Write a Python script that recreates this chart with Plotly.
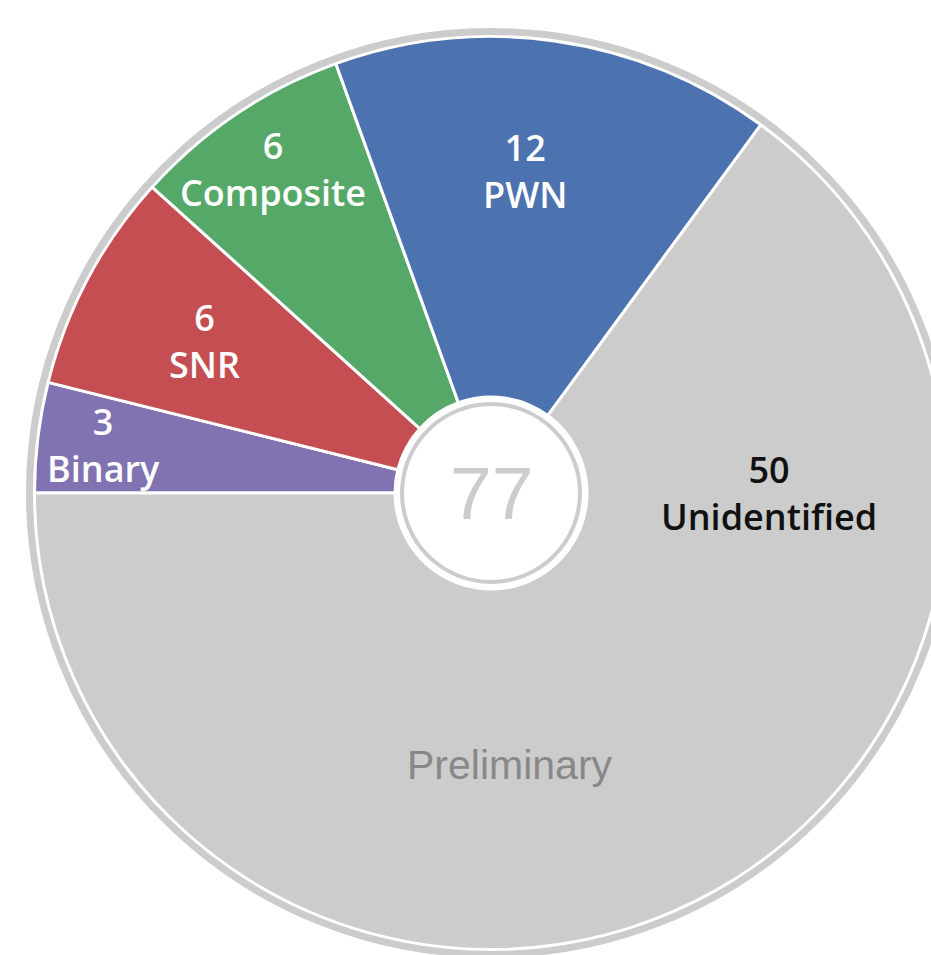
import math
import plotly.graph_objects as go

# ---- data ----
categories = ["Binary", "SNR", "Composite", "PWN", "Unidentified"]
counts = [3, 6, 6, 12, 50]
slice_colors = ["#8172B2", "#C44E52", "#55A868", "#4C72B0", "#CCCCCC"]
label_colors = ["white", "white", "white", "white", "#111111"]
watermark = "Preliminary"

# ---- geometry (pixels in figure coords) ----
OFF_X, OFF_Y = 0, 0          # body margin removed below
W, H = 980, 990
CX, CY = 491 - OFF_X, 493 - OFF_Y
R = 456.5
HOLE = 96.0 / R

label_rfrac = [0.855, 0.71, 0.855, 0.71, 0.61]
label_angle_override = [None, None, None, 84.0, 0.0]


def px(x):
    return x / W


def py(y):
    return 1 - y / H


total = sum(counts)

fig = go.Figure()
fig.add_trace(go.Pie(
    labels=categories,
    values=counts,
    sort=False,
    direction="clockwise",
    rotation=-90,
    hole=HOLE,
    textinfo="none",
    hoverinfo="label+value",
    marker=dict(colors=slice_colors, line=dict(color="white", width=3)),
    showlegend=False,
    domain=dict(x=[px(CX - R), px(CX + R)], y=[py(CY + R), py(CY - R)]),
))

shapes = []
# outer grey ring
ro = 461.5
shapes.append(dict(type="circle", xref="paper", yref="paper",
                   x0=px(CX - ro), x1=px(CX + ro), y0=py(CY + ro), y1=py(CY - ro),
                   line=dict(color="#CCCCCC", width=7), fillcolor="rgba(0,0,0,0)", layer="above"))
# inner grey ring
ri = 89
shapes.append(dict(type="circle", xref="paper", yref="paper",
                   x0=px(CX - ri), x1=px(CX + ri), y0=py(CY + ri), y1=py(CY - ri),
                   line=dict(color="#CCCCCC", width=4), fillcolor="white", layer="above"))

annotations = []
# slice labels
start = 180.0
for cat, v, rf, ang_o, col in zip(categories, counts, label_rfrac, label_angle_override, label_colors):
    span = v / total * 360.0
    mid = start - span / 2
    start -= span
    ang = mid if ang_o is None else ang_o
    x = CX + rf * R * math.cos(math.radians(ang))
    y = CY - rf * R * math.sin(math.radians(ang))
    annotations.append(dict(x=px(x), y=py(y), xref="paper", yref="paper",
                            text=f"{v}<br>{cat}", showarrow=False,
                            xanchor="center", yanchor="middle",
                            font=dict(family="Open Sans", size=36, color=col, weight=600)))

annotations.append(dict(x=px(CX), y=py(CY), xref="paper", yref="paper",
                        text=str(total), showarrow=False, xanchor="center", yanchor="middle",
                        font=dict(family="Liberation Sans", size=75, color="#CCCCCC")))
annotations.append(dict(x=px(CX + 19), y=py(CY + 272), xref="paper", yref="paper",
                        text=watermark, showarrow=False, xanchor="center", yanchor="middle",
                        font=dict(family="Liberation Sans", size=41, color="#888888")))

fig.update_layout(
    width=W, height=H,
    margin=dict(l=0, r=0, t=0, b=0),
    paper_bgcolor="white", plot_bgcolor="white",
    shapes=shapes, annotations=annotations,
)

fig.write_html(
    "out.html",
    config={"displayModeBar": False},
    post_script="document.body.style.margin='0';document.body.style.overflow='hidden';",
)
